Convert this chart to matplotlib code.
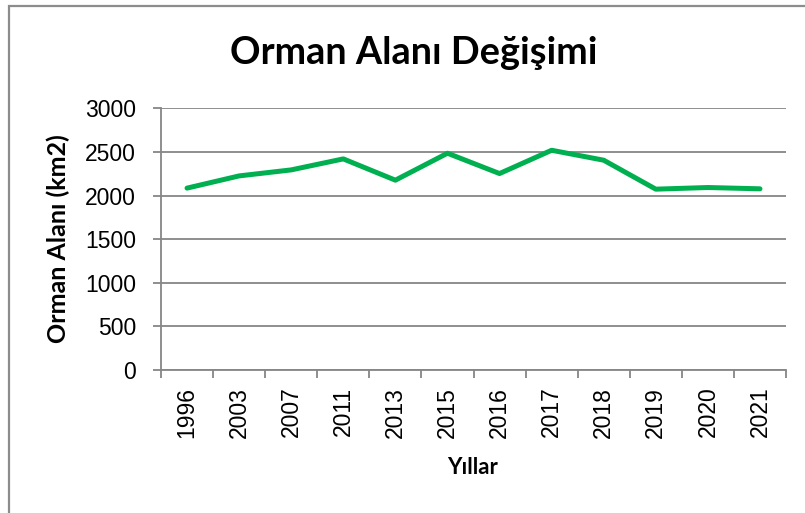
import matplotlib
matplotlib.use('Agg')
import matplotlib.pyplot as plt
from matplotlib.patches import Rectangle
import numpy as np

# yıllara göre orman alanı (km2)
years = ['1996', '2003', '2007', '2011', '2013', '2015',
         '2016', '2017', '2018', '2019', '2020', '2021']
area = [2085, 2225, 2294, 2420, 2176, 2485, 2252, 2519, 2405, 2073, 2092, 2077]

W, H = 805, 513
grey = '#868686'
green = '#00B050'
tick_font = 'Liberation Sans'
head_font = 'Lato'

fig = plt.figure(figsize=(W / 100, H / 100), dpi=100)
ax = fig.add_axes([161 / W, 1 - 370 / H, 625 / W, (370 - 108.3) / H])

x = np.arange(len(years))
ax.plot(x, area, color=green, lw=3.6, solid_capstyle='round',
        solid_joinstyle='round', zorder=3)

ax.set_xlim(-0.5, len(years) - 0.5)
ax.set_ylim(0, 3000)
ax.set_yticks(range(0, 3001, 500))
ax.yaxis.grid(True, color=grey, lw=1.3)
ax.set_axisbelow(True)

# kategori sınırlarında tik, etiketler ortada
ax.set_xticks(np.arange(-0.5, len(years), 1))
ax.set_xticklabels([])
ax.set_xticks(x, minor=True)
ax.set_xticklabels(years, minor=True, rotation=90, fontsize=16.5,
                   family=tick_font)
ax.tick_params(axis='x', which='major', length=6, width=1.3, color=grey)
ax.tick_params(axis='x', which='minor', length=0, pad=12)
ax.tick_params(axis='y', length=6, width=1.3, color=grey, pad=12,
               labelsize=16.5)
for lab in ax.get_yticklabels():
    lab.set_family(tick_font)

for side in ('top', 'right'):
    ax.spines[side].set_visible(False)
for side in ('left', 'bottom'):
    ax.spines[side].set_color(grey)
    ax.spines[side].set_linewidth(1.3)

fig.text(414 / W, 1 - 64 / H, 'Orman Alanı Değişimi', ha='center',
         va='baseline', fontsize=27.3, fontweight='bold', family=head_font)
fig.text(58 / W, 1 - 239 / H, 'Orman Alanı (km2)', rotation=90,
         ha='center', va='center', fontsize=18, fontweight='bold',
         family=head_font)
fig.text(473 / W, 1 - 468 / H, 'Yıllar', ha='center', va='center',
         fontsize=16, fontweight='bold', family=head_font)

# grafik alanı çerçevesi (sağ ve alt kenar dışarıda kalıyor)
fig.patches.append(Rectangle((9 / W, -0.05), 1.1, 1 - 6 / H + 0.05,
                             transform=fig.transFigure, fill=False,
                             edgecolor='#8c8c8c', lw=1.6))

fig.savefig('out.png', dpi=100)
